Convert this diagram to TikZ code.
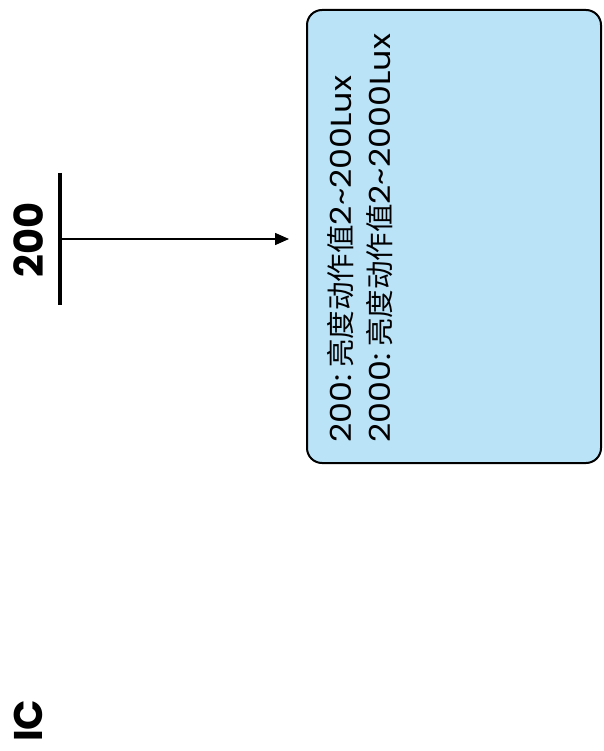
\documentclass[tikz,border=0pt]{standalone}
\usepackage{fontspec}
\setmainfont{Poppins}
\newfontfamily\cjk{Noto Sans CJK SC}
\newfontfamily\boxlat{Poppins}[FakeStretch=1.15]
\newcommand\zhtxt[1]{{\cjk\fontsize{28.5}{30}\selectfont #1}}
\usetikzlibrary{arrows.meta}
\definecolor{boxblue}{HTML}{BAE3F8}
\tikzset{
  infobox/.style={draw=black, line width=2pt, fill=boxblue, rounded corners=15pt},
  boxtext/.style={rotate=90, anchor=base west, inner sep=0pt, font=\boxlat\fontsize{29}{30}\selectfont},
  biglabel/.style={rotate=90, anchor=base west, inner sep=0pt, font=\bfseries\fontsize{40}{44}\selectfont},
  conn/.style={line width=1.5pt, -{Triangle[length=14pt,width=12pt]}}
}
\begin{document}
\begin{tikzpicture}[x=1pt,y=-1pt]
\useasboundingbox (0,0) rectangle (603,751);
\draw[infobox] (307,10) rectangle (601,463);
\node[boxtext] (l1) at (351,443) {200:\hspace{7pt}\zhtxt{亮度动作值}2\textasciitilde 200Lux};
\node[boxtext] (l2) at (390,443) {2000:\hspace{7pt}\zhtxt{亮度动作值}2\textasciitilde 2000Lux};
\node[biglabel] (lbl) at (43,278) {200};
\coordinate (bt) at (60,173);
\coordinate (bb) at (60,305);
\draw[line width=4pt] (bt) -- (bb);
\coordinate (as) at (60,239);
\coordinate (ae) at (289,239);
\draw[conn] (as) -- (ae);
\node[biglabel] (ic) at (42,742) {IC};
\end{tikzpicture}
\end{document}
